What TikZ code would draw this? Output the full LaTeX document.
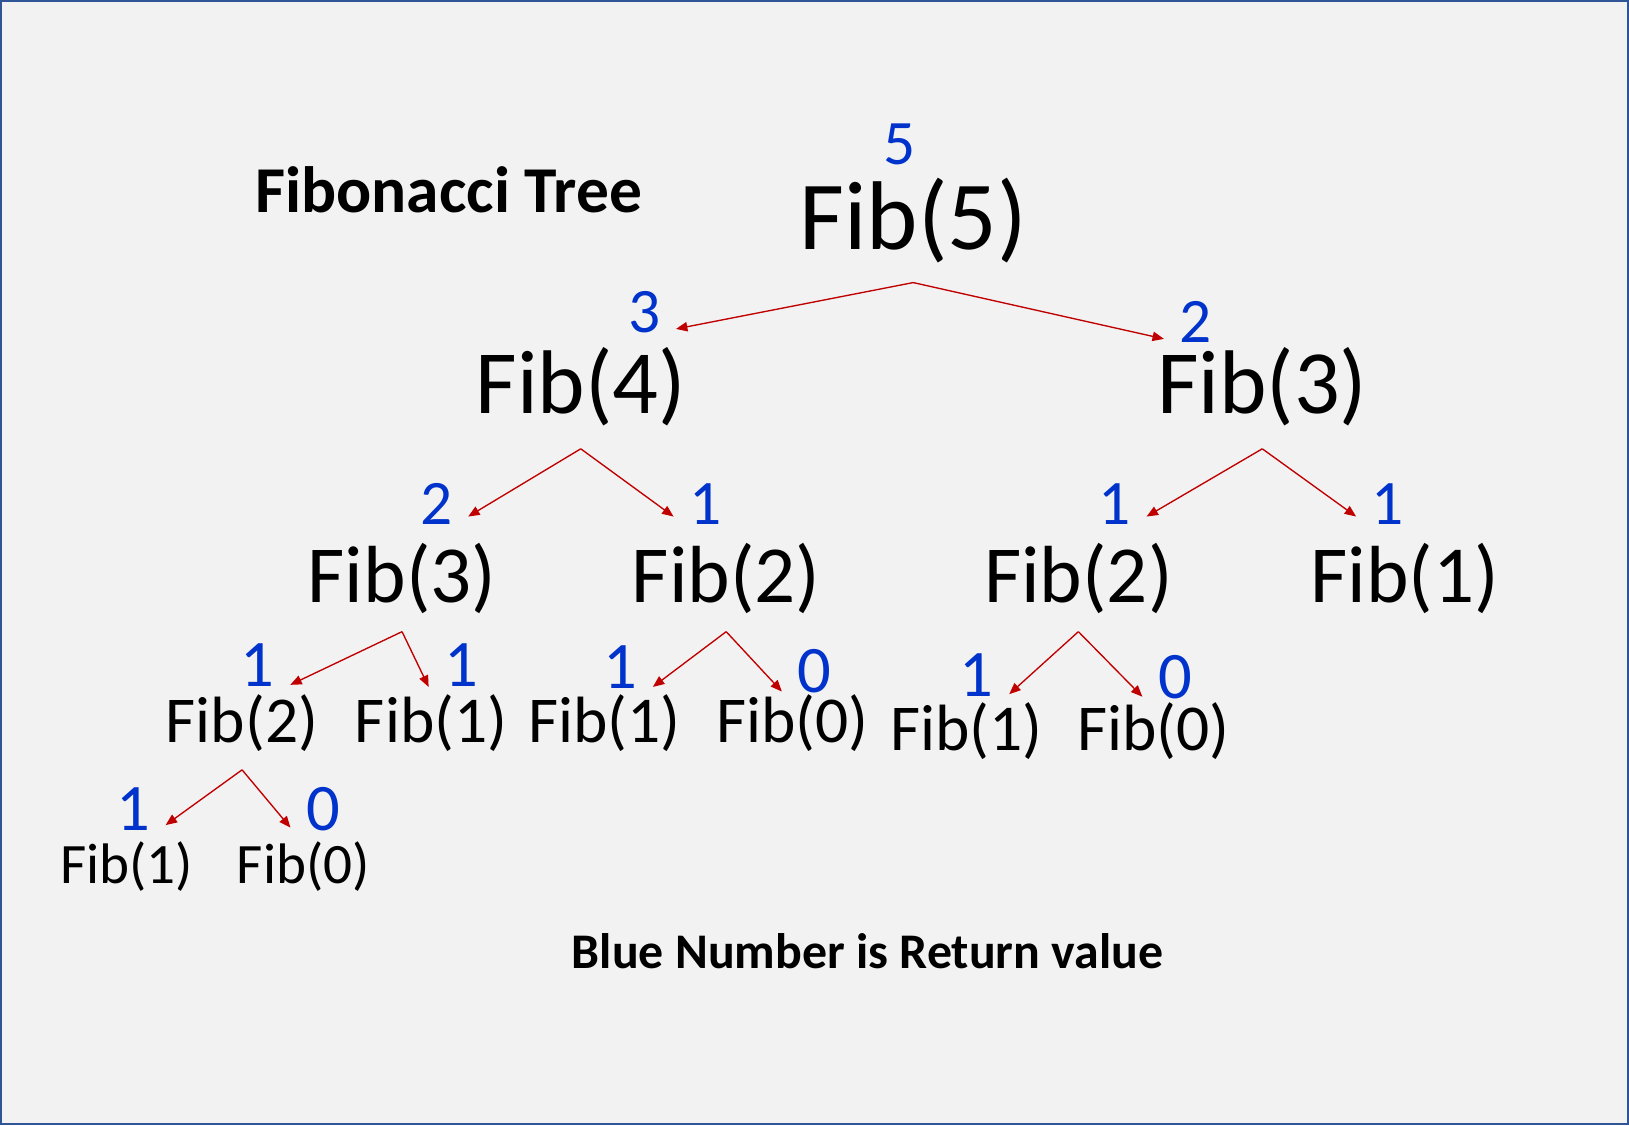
\documentclass[tikz,border=0pt]{standalone}
\usepackage{fontspec}
\setmainfont{Carlito}
\usetikzlibrary{arrows.meta}
\definecolor{framebl}{RGB}{47,85,151}
\definecolor{bggray}{RGB}{242,242,242}
\definecolor{retblue}{RGB}{0,51,204}
\definecolor{callred}{RGB}{192,0,0}

\begin{document}
\begin{tikzpicture}[
    x=1pt, y=-1pt,
    fibA/.style={anchor=base, inner sep=0pt, font=\fontsize{94}{100}\selectfont},
    fibB/.style={anchor=base, inner sep=0pt, font=\fontsize{87}{90}\selectfont},
    fibC/.style={anchor=base, inner sep=0pt, font=\fontsize{78}{80}\selectfont},
    fibD/.style={anchor=base, inner sep=0pt, font=\fontsize{63}{66}\selectfont},
    fibE/.style={anchor=base, inner sep=0pt, font=\fontsize{55}{58}\selectfont},
    ret/.style={anchor=base, inner xsep=15pt, inner ysep=0pt, text=retblue, font=\fontsize{61}{61}\selectfont},
    retb/.style={ret, font=\fontsize{64}{64}\selectfont},
    ttl/.style={anchor=base, inner sep=0pt, font=\fontsize{63}{66}\selectfont\bfseries},
    note/.style={anchor=base, inner sep=0pt, font=\fontsize{48}{52}\selectfont\bfseries},
    arr/.style={-{Triangle[length=11pt, width=9pt]}, line width=1.3pt, draw=callred}
]
    % frame
    \path[use as bounding box] (0,0) rectangle (1568,1083);
    \draw[draw=framebl, fill=bggray, line width=2pt] (1,1) rectangle (1567,1082);

    \node[ttl] (title) at (432,205) {Fibonacci Tree};
    \node[note] (legend) at (835,932) {Blue Number is Return value};

    % level 0
    \node[fibA] (f5) at (879,240) {Fib(5)};
    \node[ret] (r5) at (866,158) {5};

    % level 1
    \node[fibB] (f4) at (559,398) {Fib(4)};
    \node[fibB] (f3a) at (1215,398) {Fib(3)};
    \node[ret] (r4) at (620,320) {3};
    \node[ret] (r3a) at (1151,330) {2};

    % level 2
    \node[fibC] (f3b) at (387,580) {Fib(3)};
    \node[fibC] (f2a) at (699,580) {Fib(2)};
    \node[fibC] (f2b) at (1038,580) {Fib(2)};
    \node[fibC] (f1a) at (1352,580) {Fib(1)};
    \node[ret] (r3b) at (420,505) {2};
    \node[ret] (r2a) at (679,505) {1};
    \node[ret] (r2b) at (1073,505) {1};
    \node[ret] (r1a) at (1336,505) {1};

    % level 3
    \node[fibD] (f2c) at (233,715) {Fib(2)};
    \node[fibD] (f1b) at (415,715) {Fib(1)};
    \node[fibD] (f1c) at (582,715) {Fib(1)};
    \node[fibD] (f0a) at (763,715) {Fib(0)};
    \node[fibD] (f1d) at (930,722) {Fib(1)};
    \node[fibD] (f0b) at (1110,722) {Fib(0)};
    \node[retb] (r2c) at (248,661) {1};
    \node[retb] (r1b) at (444,661) {1};
    \node[retb] (r1c) at (597,663) {1};
    \node[retb] (r0a) at (784,667) {0};
    \node[retb] (r1d) at (940,670) {1};
    \node[retb] (r0b) at (1131,672) {0};

    % level 4
    \node[fibE] (f1e) at (122,850) {Fib(1)};
    \node[fibE] (f0c) at (292,850) {Fib(0)};
    \node[retb] (r1e) at (128,799) {1};
    \node[retb] (r0c) at (311,799) {0};

    % call points below each parent
    \coordinate (f5s) at ([yshift=-32pt]f5.base);
    \coordinate (f4s) at ([yshift=-34pt]f4.base);
    \coordinate (f3as) at ([yshift=-34pt]f3a.base);
    \coordinate (f3bs) at ([yshift=-28pt]f3b.base);
    \coordinate (f2as) at ([yshift=-28pt]f2a.base);
    \coordinate (f2bs) at ([yshift=-28pt]f2b.base);
    \coordinate (f2cs) at ([yshift=-26pt]f2c.base);

    \draw[arr] (f5s) -- ([yshift=4pt]r4.south east);
    \draw[arr] (f5s) -- ([yshift=4pt]r3a.south west);
    \draw[arr] (f4s) -- ([yshift=8pt]r3b.south east);
    \draw[arr] (f4s) -- ([yshift=8pt]r2a.south west);
    \draw[arr] (f3as) -- ([yshift=8pt]r2b.south east);
    \draw[arr] (f3as) -- ([yshift=8pt]r1a.south west);
    \draw[arr] (f3bs) -- ([yshift=2pt]r2c.south east);
    \draw[arr] (f3bs) -- ([yshift=0pt]r1b.south west);
    \draw[arr] (f2as) -- ([yshift=2pt]r1c.south east);
    \draw[arr] (f2as) -- ([yshift=2pt]r0a.south west);
    \draw[arr] (f2bs) -- ([yshift=2pt]r1d.south east);
    \draw[arr] (f2bs) -- ([yshift=2pt]r0b.south west);
    \draw[arr] (f2cs) -- ([yshift=5pt]r1e.south east);
    \draw[arr] (f2cs) -- ([yshift=3pt]r0c.south west);
\end{tikzpicture}
\end{document}
